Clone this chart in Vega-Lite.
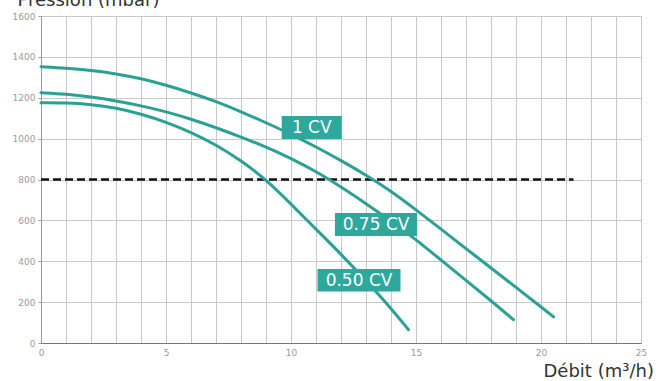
{
  "$schema": "https://vega.github.io/schema/vega-lite/v6.json",
  "width": 600,
  "height": 327,
  "autosize": {"type": "none"},
  "padding": {"left": 41, "top": 16, "right": 15, "bottom": 38},
  "background": "white",
  "config": {"view": {"stroke": null}},
  "datasets": {
    "curves": [
      {"moteur": "1 CV", "debit": 0, "pression": 1352},
      {"moteur": "1 CV", "debit": 1, "pression": 1345},
      {"moteur": "1 CV", "debit": 2, "pression": 1334},
      {"moteur": "1 CV", "debit": 3, "pression": 1318},
      {"moteur": "1 CV", "debit": 4, "pression": 1294},
      {"moteur": "1 CV", "debit": 5, "pression": 1262},
      {"moteur": "1 CV", "debit": 6, "pression": 1224},
      {"moteur": "1 CV", "debit": 7, "pression": 1182},
      {"moteur": "1 CV", "debit": 8, "pression": 1132},
      {"moteur": "1 CV", "debit": 9, "pression": 1078},
      {"moteur": "1 CV", "debit": 10, "pression": 1022},
      {"moteur": "1 CV", "debit": 11, "pression": 960},
      {"moteur": "1 CV", "debit": 12, "pression": 893},
      {"moteur": "1 CV", "debit": 13, "pression": 822},
      {"moteur": "1 CV", "debit": 14, "pression": 744},
      {"moteur": "1 CV", "debit": 15, "pression": 652},
      {"moteur": "1 CV", "debit": 16, "pression": 557},
      {"moteur": "1 CV", "debit": 17, "pression": 462},
      {"moteur": "1 CV", "debit": 18, "pression": 367},
      {"moteur": "1 CV", "debit": 19, "pression": 272},
      {"moteur": "1 CV", "debit": 20, "pression": 177},
      {"moteur": "1 CV", "debit": 20.5, "pression": 128},
      {"moteur": "0.75 CV", "debit": 0, "pression": 1225},
      {"moteur": "0.75 CV", "debit": 1, "pression": 1218},
      {"moteur": "0.75 CV", "debit": 2, "pression": 1204},
      {"moteur": "0.75 CV", "debit": 3, "pression": 1185},
      {"moteur": "0.75 CV", "debit": 4, "pression": 1161},
      {"moteur": "0.75 CV", "debit": 5, "pression": 1132},
      {"moteur": "0.75 CV", "debit": 6, "pression": 1096},
      {"moteur": "0.75 CV", "debit": 7, "pression": 1054},
      {"moteur": "0.75 CV", "debit": 8, "pression": 1008},
      {"moteur": "0.75 CV", "debit": 9, "pression": 959},
      {"moteur": "0.75 CV", "debit": 10, "pression": 904},
      {"moteur": "0.75 CV", "debit": 11, "pression": 840},
      {"moteur": "0.75 CV", "debit": 12, "pression": 764},
      {"moteur": "0.75 CV", "debit": 13, "pression": 682},
      {"moteur": "0.75 CV", "debit": 14, "pression": 597},
      {"moteur": "0.75 CV", "debit": 15, "pression": 506},
      {"moteur": "0.75 CV", "debit": 16, "pression": 406},
      {"moteur": "0.75 CV", "debit": 17, "pression": 306},
      {"moteur": "0.75 CV", "debit": 18, "pression": 207},
      {"moteur": "0.75 CV", "debit": 18.9, "pression": 114},
      {"moteur": "0.50 CV", "debit": 0, "pression": 1175},
      {"moteur": "0.50 CV", "debit": 1, "pression": 1175},
      {"moteur": "0.50 CV", "debit": 2, "pression": 1168},
      {"moteur": "0.50 CV", "debit": 3, "pression": 1150},
      {"moteur": "0.50 CV", "debit": 4, "pression": 1121},
      {"moteur": "0.50 CV", "debit": 5, "pression": 1081},
      {"moteur": "0.50 CV", "debit": 6, "pression": 1031},
      {"moteur": "0.50 CV", "debit": 7, "pression": 970},
      {"moteur": "0.50 CV", "debit": 8, "pression": 893},
      {"moteur": "0.50 CV", "debit": 9, "pression": 800},
      {"moteur": "0.50 CV", "debit": 10, "pression": 680},
      {"moteur": "0.50 CV", "debit": 11, "pression": 557},
      {"moteur": "0.50 CV", "debit": 12, "pression": 435},
      {"moteur": "0.50 CV", "debit": 13, "pression": 305},
      {"moteur": "0.50 CV", "debit": 14, "pression": 170},
      {"moteur": "0.50 CV", "debit": 14.7, "pression": 65}
    ],
    "labels": [
      {"moteur": "1 CV", "debit": 10.83, "pression": 1055},
      {"moteur": "0.75 CV", "debit": 13.4, "pression": 580},
      {"moteur": "0.50 CV", "debit": 12.72, "pression": 307}
    ],
    "seuil": [
      {"debit": 0, "debit_fin": 21.3, "pression": 800}
    ]
  },
  "encoding": {
    "x": {
      "field": "debit",
      "type": "quantitative",
      "scale": {"domain": [0, 24], "nice": false, "zero": false},
      "axis": {
        "values": [0,1,2,3,4,5,6,7,8,9,10,11,12,13,14,15,16,17,18,19,20,21,22,23,24],
        "labelExpr": "datum.value == 24 ? '25' : (datum.value % 5 == 0 ? datum.label : '')",
        "labelFont": "DejaVu Sans",
        "labelFontSize": 9,
        "labelColor": "#9a9a9a",
        "labelPadding": 5,
        "labelOverlap": false,
        "labelFlush": false,
        "ticks": false,
        "grid": true,
        "gridColor": "#c8c8c8",
        "gridWidth": 1,
        "domainColor": "#777777",
        "domainWidth": 1,
        "title": "Débit (m³/h)",
        "titleFont": "DejaVu Sans",
        "titleFontSize": 18,
        "titleFontWeight": "normal",
        "titleColor": "#333333",
        "titleAlign": "left",
        "titleBaseline": "alphabetic",
        "titleAnchor": null,
        "titleX": 502,
        "titleY": 33
      }
    },
    "y": {
      "field": "pression",
      "type": "quantitative",
      "scale": {"domain": [0, 1600], "nice": false},
      "axis": {
        "values": [0, 200, 400, 600, 800, 1000, 1200, 1400, 1600],
        "format": "d",
        "labelFont": "DejaVu Sans",
        "labelFontSize": 9,
        "labelColor": "#9a9a9a",
        "labelPadding": 3,
        "tickSize": 3,
        "tickColor": "#9a9a9a",
        "grid": true,
        "gridColor": "#c8c8c8",
        "gridWidth": 1,
        "domainColor": "#9a9a9a",
        "title": "Pression (mbar)",
        "titleFont": "DejaVu Sans",
        "titleFontSize": 18,
        "titleFontWeight": "normal",
        "titleColor": "#333333",
        "titleAngle": 0,
        "titleAlign": "left",
        "titleBaseline": "alphabetic",
        "titleAnchor": null,
        "titleX": -24,
        "titleY": -11
      }
    }
  },
  "layer": [
    {
      "data": {"name": "seuil"},
      "mark": {"type": "rule", "color": "#111111", "strokeWidth": 2.5, "strokeDash": [8, 4]},
      "encoding": {
        "x2": {"field": "debit_fin"}
      }
    },
    {
      "data": {"name": "curves"},
      "mark": {"type": "line", "interpolate": "basis", "color": "#2ba195", "strokeWidth": 3, "strokeCap": "round"},
      "encoding": {
        "detail": {"field": "moteur", "type": "nominal"}
      }
    },
    {
      "data": {"name": "labels"},
      "mark": {"type": "point", "filled": true, "opacity": 1, "color": "#2ea79c", "size": 6889, "strokeWidth": 0},
      "encoding": {
        "shape": {
          "field": "moteur",
          "type": "nominal",
          "scale": {
            "domain": ["1 CV", "0.75 CV", "0.50 CV"],
            "range": [
              "M-0.723,-0.277L0.723,-0.277L0.723,0.277L-0.723,0.277Z",
              "M-0.99,-0.277L0.99,-0.277L0.99,0.277L-0.99,0.277Z",
              "M-1,-0.27L1,-0.27L1,0.27L-1,0.27Z"
            ]
          },
          "legend": null
        }
      }
    },
    {
      "data": {"name": "labels"},
      "mark": {"type": "text", "color": "white", "font": "DejaVu Sans", "fontSize": 17, "align": "center", "baseline": "middle", "dy": 1},
      "encoding": {
        "text": {"field": "moteur", "type": "nominal"}
      }
    }
  ]
}
